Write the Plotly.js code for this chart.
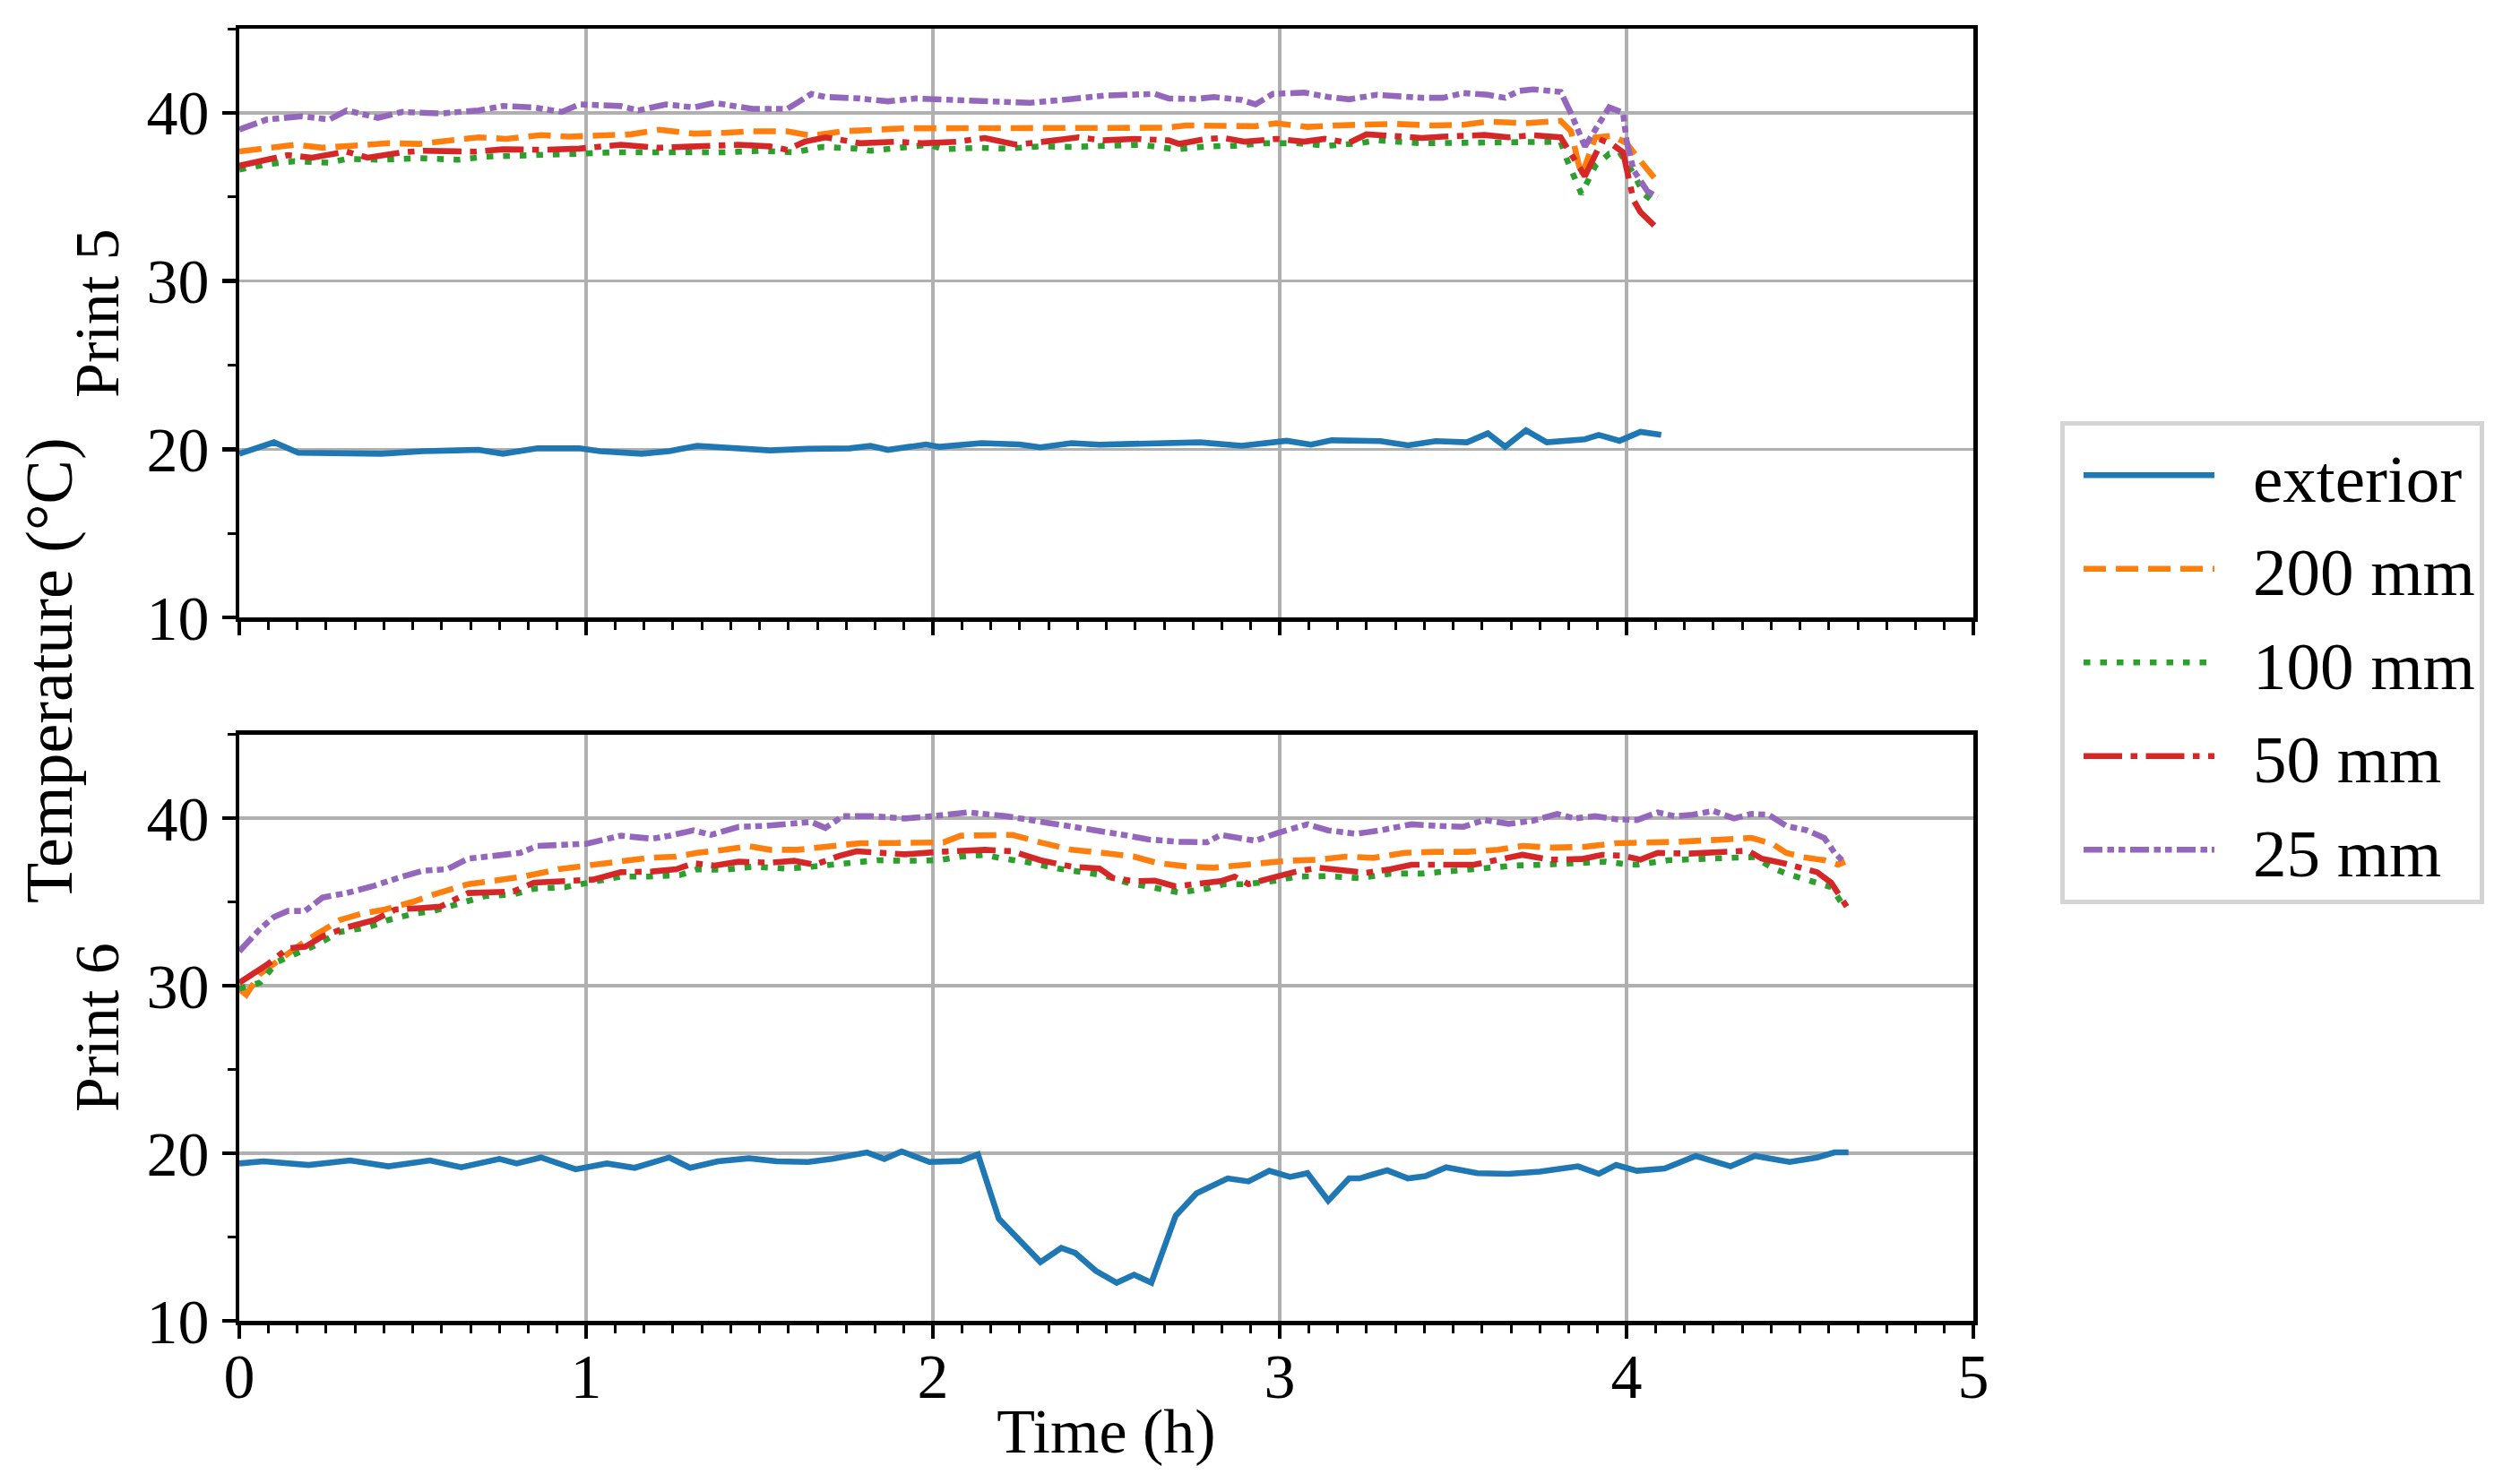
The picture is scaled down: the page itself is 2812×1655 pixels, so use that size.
<!DOCTYPE html>
<html>
<head>
<meta charset="utf-8">
<script src="https://cdn.plot.ly/plotly-3.0.1.min.js"></script>
<style>html,body{margin:0;padding:0;background:#fff;}#chart{width:2812px;height:1655px;}</style>
</head>
<body>
<div id="chart"></div>
<script>
// ---------- Print 5 (top panel) ----------
const p5_ext_t = [0.00, 0.10, 0.17, 0.29, 0.41, 0.53, 0.69, 0.76, 0.86, 0.98, 1.04, 1.16, 1.24, 1.32, 1.42, 1.53, 1.64, 1.76, 1.82, 1.87, 1.98, 2.02, 2.14, 2.25, 2.31, 2.40, 2.48, 2.59, 2.71, 2.77, 2.89, 3.02, 3.09, 3.15, 3.29, 3.37, 3.45, 3.54, 3.60, 3.65, 3.71, 3.77, 3.88, 3.92, 3.98, 4.04, 4.10];
const p5_ext   = [19.73, 20.41, 19.79, 19.79, 19.73, 19.88, 19.96, 19.73, 20.05, 20.05, 19.88, 19.73, 19.88, 20.20, 20.05, 19.93, 20.02, 20.05, 20.20, 19.96, 20.28, 20.14, 20.36, 20.28, 20.11, 20.36, 20.27, 20.30, 20.32, 20.41, 20.20, 20.50, 20.27, 20.53, 20.48, 20.23, 20.48, 20.41, 20.94, 20.14, 21.12, 20.41, 20.59, 20.85, 20.50, 21.03, 20.85];

const p5_200_t = [0.00, 0.08, 0.16, 0.24, 0.34, 0.43, 0.52, 0.61, 0.69, 0.77, 0.87, 0.95, 1.05, 1.13, 1.21, 1.31, 1.40, 1.48, 1.58, 1.65, 1.74, 1.84, 1.92, 2.02, 2.12, 2.21, 2.30, 2.40, 2.50, 2.60, 2.67, 2.73, 2.82, 2.93, 2.99, 3.08, 3.16, 3.25, 3.33, 3.44, 3.53, 3.60, 3.71, 3.81, 3.84, 3.87, 3.91, 3.96, 4.00, 4.03, 4.08];
const p5_200   = [37.70, 37.92, 38.10, 37.92, 38.10, 38.19, 38.15, 38.33, 38.54, 38.45, 38.67, 38.58, 38.63, 38.72, 38.99, 38.76, 38.81, 38.90, 38.90, 38.63, 38.90, 39.04, 39.08, 39.08, 39.08, 39.11, 39.15, 39.08, 39.11, 39.11, 39.11, 39.25, 39.20, 39.20, 39.38, 39.16, 39.25, 39.30, 39.34, 39.25, 39.29, 39.47, 39.38, 39.52, 38.90, 36.23, 38.54, 38.63, 38.19, 37.39, 36.14];

const p5_100_t = [0.00, 0.08, 0.16, 0.26, 0.31, 0.40, 0.52, 0.63, 0.71, 0.79, 0.89, 0.97, 1.08, 1.19, 1.31, 1.40, 1.50, 1.60, 1.68, 1.78, 1.82, 1.90, 1.99, 2.03, 2.13, 2.21, 2.31, 2.40, 2.50, 2.60, 2.70, 2.79, 2.87, 2.96, 3.05, 3.14, 3.23, 3.28, 3.41, 3.53, 3.68, 3.81, 3.83, 3.87, 3.91, 3.95, 3.98, 4.02, 4.05, 4.09];
const p5_100   = [36.62, 36.94, 37.12, 37.03, 37.26, 37.21, 37.30, 37.21, 37.39, 37.48, 37.51, 37.56, 37.65, 37.65, 37.65, 37.65, 37.74, 37.65, 37.97, 37.87, 37.74, 37.87, 38.10, 37.83, 37.92, 37.87, 38.00, 37.97, 38.00, 38.10, 37.83, 38.00, 38.04, 38.19, 38.19, 38.04, 38.19, 38.36, 38.19, 38.22, 38.28, 38.28, 37.12, 35.17, 36.85, 37.56, 37.65, 36.41, 35.17, 34.54];

const p5_50_t = [0.00, 0.08, 0.14, 0.21, 0.31, 0.37, 0.47, 0.53, 0.68, 0.76, 0.87, 0.98, 1.10, 1.21, 1.28, 1.37, 1.44, 1.53, 1.58, 1.63, 1.69, 1.79, 1.89, 1.97, 2.07, 2.15, 2.24, 2.32, 2.42, 2.49, 2.58, 2.68, 2.71, 2.79, 2.84, 2.90, 2.99, 3.07, 3.13, 3.20, 3.25, 3.32, 3.41, 3.47, 3.59, 3.66, 3.73, 3.81, 3.88, 3.93, 3.96, 3.99, 4.00, 4.02, 4.04, 4.08];
const p5_50   = [36.85, 37.16, 37.48, 37.33, 37.69, 37.33, 37.65, 37.74, 37.69, 37.83, 37.80, 37.87, 38.10, 37.92, 38.00, 38.10, 38.10, 38.00, 37.80, 38.28, 38.54, 38.19, 38.28, 38.19, 38.28, 38.50, 38.10, 38.28, 38.54, 38.36, 38.45, 38.36, 38.15, 38.45, 38.50, 38.28, 38.45, 38.28, 38.45, 38.22, 38.72, 38.63, 38.50, 38.58, 38.68, 38.54, 38.67, 38.54, 36.23, 38.36, 38.10, 37.65, 36.76, 34.81, 34.10, 33.30];

const p5_25_t = [0.00, 0.08, 0.18, 0.26, 0.31, 0.40, 0.47, 0.58, 0.69, 0.76, 0.85, 0.93, 0.98, 1.10, 1.15, 1.23, 1.31, 1.37, 1.48, 1.58, 1.65, 1.69, 1.79, 1.87, 1.95, 2.08, 2.28, 2.40, 2.50, 2.64, 2.68, 2.76, 2.81, 2.89, 2.93, 2.98, 3.07, 3.14, 3.20, 3.28, 3.35, 3.41, 3.47, 3.53, 3.60, 3.65, 3.69, 3.73, 3.81, 3.84, 3.88, 3.95, 3.99, 4.00, 4.02, 4.06, 4.09];
const p5_25   = [39.00, 39.60, 39.79, 39.60, 40.14, 39.70, 40.05, 39.96, 40.14, 40.40, 40.32, 40.05, 40.50, 40.40, 40.14, 40.50, 40.32, 40.59, 40.23, 40.23, 41.12, 40.94, 40.85, 40.68, 40.85, 40.76, 40.59, 40.82, 41.03, 41.12, 40.85, 40.82, 40.94, 40.76, 40.50, 41.12, 41.20, 40.94, 40.80, 41.07, 40.94, 40.89, 40.89, 41.17, 41.07, 40.89, 41.30, 41.39, 41.24, 39.96, 38.00, 40.32, 40.00, 38.36, 36.60, 35.34, 34.99];

// ---------- Print 6 (bottom panel) ----------
const p6_ext_t = [0.00, 0.07, 0.20, 0.32, 0.43, 0.55, 0.64, 0.75, 0.80, 0.87, 0.97, 1.06, 1.14, 1.24, 1.30, 1.38, 1.47, 1.55, 1.64, 1.71, 1.81, 1.86, 1.91, 1.99, 2.08, 2.13, 2.19, 2.25, 2.31, 2.37, 2.41, 2.47, 2.53, 2.58, 2.63, 2.70, 2.76, 2.85, 2.91, 2.97, 3.03, 3.08, 3.14, 3.20, 3.23, 3.31, 3.37, 3.42, 3.48, 3.57, 3.66, 3.75, 3.86, 3.92, 3.97, 4.03, 4.11, 4.20, 4.30, 4.37, 4.47, 4.55, 4.60, 4.64];
const p6_ext   = [19.39, 19.52, 19.30, 19.57, 19.22, 19.57, 19.16, 19.66, 19.39, 19.75, 19.04, 19.39, 19.13, 19.75, 19.13, 19.52, 19.70, 19.52, 19.48, 19.66, 20.05, 19.66, 20.11, 19.48, 19.54, 19.93, 16.10, 14.85, 13.51, 14.35, 14.05, 12.98, 12.27, 12.75, 12.27, 16.27, 17.61, 18.50, 18.32, 18.95, 18.59, 18.81, 17.17, 18.50, 18.50, 18.98, 18.50, 18.63, 19.16, 18.81, 18.77, 18.90, 19.22, 18.77, 19.30, 18.95, 19.09, 19.84, 19.22, 19.84, 19.48, 19.75, 20.05, 20.05];

const p6_200_t = [0.00, 0.02, 0.06, 0.13, 0.18, 0.22, 0.29, 0.35, 0.42, 0.50, 0.56, 0.66, 0.76, 0.82, 0.92, 1.02, 1.10, 1.18, 1.26, 1.32, 1.40, 1.47, 1.53, 1.61, 1.69, 1.79, 1.89, 1.99, 2.03, 2.08, 2.15, 2.23, 2.31, 2.40, 2.49, 2.58, 2.65, 2.74, 2.81, 2.89, 2.95, 3.02, 3.11, 3.19, 3.27, 3.36, 3.45, 3.54, 3.63, 3.70, 3.79, 3.88, 3.97, 4.06, 4.15, 4.24, 4.33, 4.36, 4.42, 4.46, 4.51, 4.57, 4.61, 4.63];
const p6_200   = [29.80, 29.46, 30.71, 31.78, 32.50, 33.03, 33.92, 34.28, 34.55, 35.00, 35.44, 36.06, 36.33, 36.51, 36.95, 37.22, 37.40, 37.63, 37.70, 37.93, 38.11, 38.33, 38.11, 38.11, 38.29, 38.50, 38.52, 38.59, 38.55, 38.95, 38.95, 39.00, 38.55, 38.11, 37.93, 37.70, 37.31, 37.10, 37.04, 37.22, 37.31, 37.45, 37.52, 37.70, 37.63, 37.93, 37.99, 37.99, 38.11, 38.34, 38.24, 38.29, 38.50, 38.52, 38.59, 38.68, 38.77, 38.82, 38.47, 37.93, 37.66, 37.49, 37.22, 37.40];

const p6_100_t = [0.00, 0.06, 0.11, 0.16, 0.22, 0.29, 0.37, 0.43, 0.50, 0.56, 0.64, 0.71, 0.79, 0.85, 0.94, 1.02, 1.10, 1.18, 1.27, 1.32, 1.40, 1.48, 1.58, 1.65, 1.69, 1.76, 1.84, 1.92, 2.02, 2.08, 2.15, 2.19, 2.28, 2.36, 2.45, 2.49, 2.56, 2.64, 2.71, 2.79, 2.84, 2.90, 2.98, 3.05, 3.14, 3.23, 3.32, 3.41, 3.50, 3.59, 3.68, 3.76, 3.85, 3.94, 3.99, 4.03, 4.12, 4.21, 4.30, 4.37, 4.42, 4.46, 4.54, 4.59, 4.63];
const p6_100   = [29.82, 30.18, 31.43, 31.87, 32.41, 33.21, 33.48, 33.92, 34.28, 34.46, 34.90, 35.35, 35.44, 35.79, 35.88, 36.24, 36.51, 36.51, 36.60, 36.95, 36.92, 37.10, 36.99, 37.10, 37.17, 37.34, 37.49, 37.45, 37.49, 37.70, 37.81, 37.63, 37.34, 36.99, 36.69, 36.60, 36.15, 35.88, 35.56, 35.79, 36.06, 36.06, 36.24, 36.51, 36.54, 36.42, 36.69, 36.69, 36.86, 36.99, 37.17, 37.22, 37.31, 37.40, 37.27, 37.22, 37.49, 37.52, 37.63, 37.67, 37.04, 36.69, 36.24, 35.88, 34.64];

const p6_50_t = [0.00, 0.08, 0.14, 0.19, 0.24, 0.31, 0.39, 0.45, 0.52, 0.58, 0.66, 0.73, 0.79, 0.85, 0.92, 1.02, 1.10, 1.19, 1.26, 1.31, 1.37, 1.44, 1.53, 1.60, 1.66, 1.73, 1.78, 1.84, 1.92, 2.02, 2.10, 2.15, 2.23, 2.31, 2.40, 2.48, 2.52, 2.58, 2.64, 2.70, 2.77, 2.83, 2.87, 2.91, 2.98, 3.04, 3.11, 3.17, 3.25, 3.32, 3.38, 3.47, 3.56, 3.63, 3.70, 3.78, 3.87, 3.93, 3.99, 4.04, 4.09, 4.18, 4.27, 4.35, 4.39, 4.46, 4.55, 4.59, 4.64];
const p6_50   = [30.18, 31.25, 32.23, 32.32, 32.94, 33.48, 33.92, 34.55, 34.63, 34.72, 35.53, 35.62, 35.62, 36.15, 36.20, 36.33, 36.77, 36.81, 36.95, 37.31, 37.17, 37.40, 37.34, 37.45, 37.22, 37.75, 38.02, 37.93, 37.84, 37.99, 38.06, 38.11, 38.02, 37.49, 37.10, 36.99, 36.42, 36.24, 36.27, 35.92, 36.10, 36.24, 36.51, 36.06, 36.45, 36.77, 37.04, 36.92, 36.74, 36.95, 37.22, 37.22, 37.22, 37.52, 37.81, 37.52, 37.56, 37.81, 37.75, 37.52, 37.93, 37.88, 37.99, 38.06, 37.58, 37.27, 36.77, 36.15, 34.55];

const p6_25_t = [0.00, 0.06, 0.10, 0.14, 0.19, 0.24, 0.31, 0.39, 0.47, 0.53, 0.60, 0.66, 0.74, 0.81, 0.86, 0.94, 1.00, 1.10, 1.19, 1.24, 1.31, 1.36, 1.44, 1.52, 1.60, 1.65, 1.69, 1.74, 1.82, 1.92, 2.00, 2.10, 2.21, 2.31, 2.40, 2.49, 2.55, 2.62, 2.71, 2.79, 2.83, 2.88, 2.93, 2.99, 3.08, 3.14, 3.22, 3.29, 3.38, 3.45, 3.53, 3.59, 3.66, 3.73, 3.80, 3.85, 3.91, 3.97, 4.03, 4.09, 4.14, 4.19, 4.25, 4.31, 4.36, 4.41, 4.46, 4.52, 4.57, 4.60, 4.63];
const p6_25   = [32.05, 33.39, 34.10, 34.46, 34.46, 35.26, 35.53, 35.97, 36.51, 36.86, 36.95, 37.58, 37.76, 37.93, 38.34, 38.38, 38.47, 38.95, 38.77, 38.95, 39.27, 39.00, 39.48, 39.54, 39.63, 39.77, 39.41, 40.12, 40.12, 39.98, 40.12, 40.34, 40.12, 39.80, 39.54, 39.18, 39.00, 38.73, 38.59, 38.56, 39.00, 38.82, 38.65, 39.09, 39.63, 39.27, 39.06, 39.27, 39.63, 39.54, 39.48, 39.89, 39.66, 39.84, 40.25, 39.98, 40.12, 39.93, 39.89, 40.34, 40.11, 40.20, 40.43, 39.98, 40.25, 40.20, 39.54, 39.27, 38.82, 37.93, 37.31];

// ---------- labels ----------
const seriesNames = ['exterior', '200 mm', '100 mm', '50 mm', '25 mm'];
const panelLabels = ['Print 5', 'Print 6'];
const xTickVals = [0, 1, 2, 3, 4, 5];
const yTickVals = [10, 20, 30, 40];
const xTitle = 'Time (h)';
const yTitle = 'Temperature (°C)';

// ---------- styles ----------
const colors = ['#1f77b4', '#ff7f0e', '#2ca02c', '#d62728', '#9467bd'];
const dashes = ['solid', '25px,11px', '7.5px,11px', '43px,9.5px,7.5px,9.5px', '21px,5.5px,7.5px,5px,7.5px,5.5px'];
const LW = 6.6;
const FONT = 'Liberation Serif, Times New Roman, serif';
const FS = 70;

const topSeries = [[p5_ext_t, p5_ext], [p5_200_t, p5_200], [p5_100_t, p5_100], [p5_50_t, p5_50], [p5_25_t, p5_25]];
const botSeries = [[p6_ext_t, p6_ext], [p6_200_t, p6_200], [p6_100_t, p6_100], [p6_50_t, p6_50], [p6_25_t, p6_25]];

const traces = [];
topSeries.forEach((s, i) => traces.push({
  type: 'scatter', mode: 'lines', x: s[0], y: s[1], name: seriesNames[i],
  xaxis: 'x', yaxis: 'y', legendgroup: 'g' + i, showlegend: true,
  line: {color: colors[i], width: LW, dash: dashes[i]}
}));
botSeries.forEach((s, i) => traces.push({
  type: 'scatter', mode: 'lines', x: s[0], y: s[1], name: seriesNames[i],
  xaxis: 'x2', yaxis: 'y2', legendgroup: 'g' + i, showlegend: false,
  line: {color: colors[i], width: LW, dash: dashes[i]}
}));

const L = 267, R = 2202, T = 32, B = 1474, W = 2812, H = 1655;
const PW = R - L, PH = B - T;
const py = v => (B - v) / PH;
const px = v => (v - L) / PW;

function xax(showLabels, anchor) {
  return {
    anchor: anchor, range: [0, 5], tickvals: xTickVals, ticktext: xTickVals.map(String),
    showticklabels: showLabels, ticks: 'outside', ticklen: 15, tickwidth: 4.5, tickcolor: '#000',
    ticklabelstandoff: -18,
    showline: true, linewidth: 4.5, linecolor: '#000', mirror: true,
    showgrid: true, gridcolor: '#b0b0b0', gridwidth: 3.5, zeroline: false,
    tickfont: {family: FONT, size: FS, color: '#000'},
    minor: {dtick: 1 / 12, tick0: 0, ticks: 'outside', ticklen: 9, tickwidth: 3, tickcolor: '#000', showgrid: false}
  };
}
function yax(domain, anchor) {
  return {
    anchor: anchor, domain: domain, range: [10, 45], tickvals: yTickVals,
    ticks: 'outside', ticklen: 15, tickwidth: 4.5, tickcolor: '#000',
    showline: true, linewidth: 4.5, linecolor: '#000', mirror: true,
    showgrid: true, gridcolor: '#b0b0b0', gridwidth: 3.5, zeroline: false,
    tickfont: {family: FONT, size: FS, color: '#000'},
    minor: {dtick: 5, tick0: 0, ticks: 'outside', ticklen: 9, tickwidth: 3, tickcolor: '#000', showgrid: false}
  };
}

const xa2 = xax(true, 'y2');
xa2.matches = 'x';
xa2.title = {text: xTitle, font: {family: FONT, size: FS, color: '#000'}, standoff: 0};

const layout = {
  width: W, height: H,
  margin: {l: L, r: W - R, t: T, b: H - B, autoexpand: false},
  paper_bgcolor: '#fff', plot_bgcolor: '#fff',
  font: {family: FONT, size: FS, color: '#000'},
  xaxis: xax(false, 'y'),
  xaxis2: xa2,
  yaxis: yax([py(689), 1], 'x'),
  yaxis2: yax([0, py(819.5)], 'x2'),
  showlegend: true,
  legend: {
    x: px(2299), y: py(470), xanchor: 'left', yanchor: 'top',
    bgcolor: '#fff', bordercolor: '#d4d4d4', borderwidth: 5,
    font: {family: FONT, size: 75, color: '#000'},
    itemwidth: 200, tracegroupgap: 4, traceorder: 'grouped'
  },
  annotations: [
    {xref: 'paper', yref: 'paper', x: px(108), y: py(350), text: panelLabels[0], textangle: -90, showarrow: false, xanchor: 'center', yanchor: 'middle', font: {family: FONT, size: FS, color: '#000'}},
    {xref: 'paper', yref: 'paper', x: px(108), y: py(1147), text: panelLabels[1], textangle: -90, showarrow: false, xanchor: 'center', yanchor: 'middle', font: {family: FONT, size: FS, color: '#000'}},
    {xref: 'paper', yref: 'paper', x: px(55), y: py(748), text: yTitle, textangle: -90, showarrow: false, xanchor: 'center', yanchor: 'middle', font: {family: FONT, size: 74, color: '#000'}}
  ]
};

Plotly.newPlot('chart', traces, layout, {staticPlot: true, displayModeBar: false}).then(gd => {
  // shorten the legend line samples to the reference length, keeping the text position
  gd.querySelectorAll('.legend .legendlines path').forEach(p => {
    const m = (p.getAttribute('d') || '').match(/^M\s*([\d.\-]+)[ ,]([\d.\-]+)/);
    if (m) p.setAttribute('d', 'M' + (parseFloat(m[1]) + 16) + ',' + m[2] + 'h146');
  });
});
</script>
</body>
</html>
